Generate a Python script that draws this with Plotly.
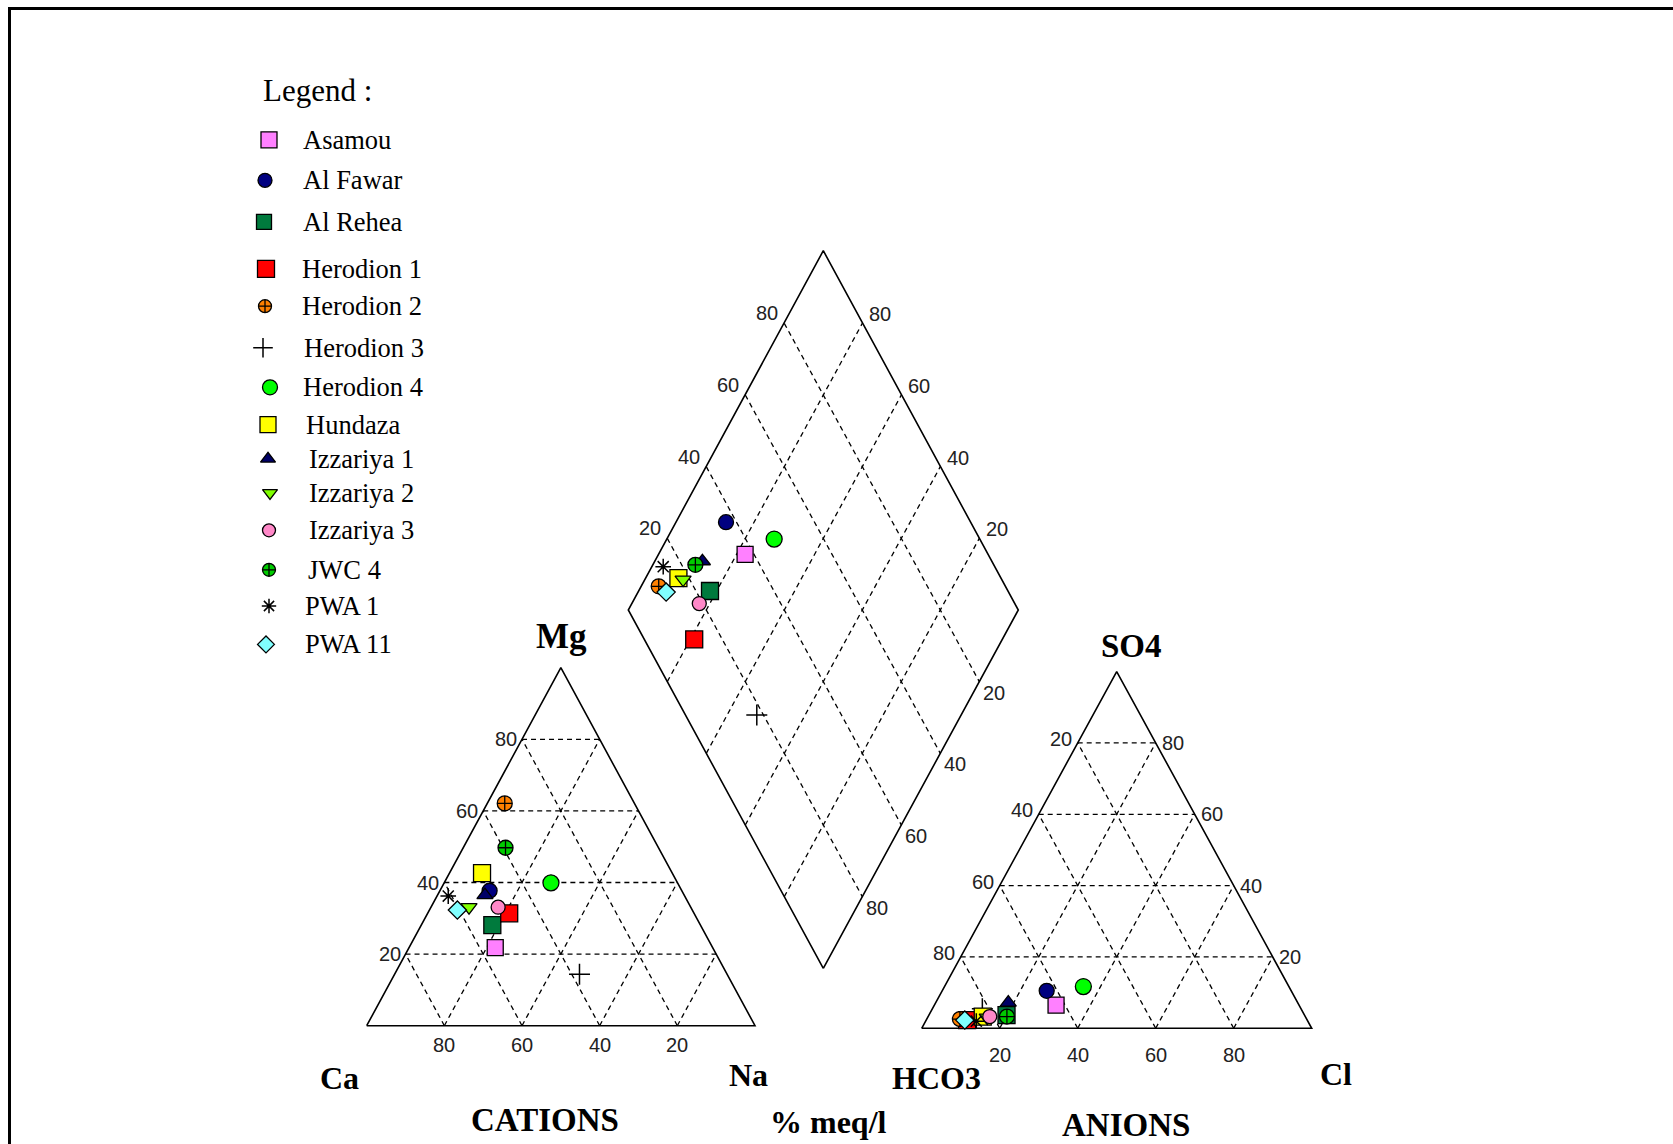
import plotly.graph_objects as go

# ---------------- data (% meq/l) ----------------
samples = ["Asamou", "Al Fawar", "Al Rehea", "Herodion 1", "Herodion 2", "Herodion 3",
           "Herodion 4", "Hundaza", "Izzariya 1", "Izzariya 2", "Izzariya 3", "JWC 4",
           "PWA 1", "PWA 11"]
ca = [56.0, 49.5, 53.6, 47.6, 33.4, 38.0, 32.6, 49.0, 51.3, 57.1, 49.6, 39.4, 60.9, 60.5]
mg = [21.8, 37.7, 28.1, 31.4, 62.1, 14.4, 39.9, 42.6, 36.5, 33.1, 33.1, 49.7, 36.2, 32.3]
na_k = [22.2, 12.8, 18.3, 21.0, 4.5, 47.6, 27.5, 8.4, 12.2, 9.8, 17.3, 10.9, 2.9, 7.2]
hco3 = [62.3, 62.7, 76.4, 87.2, 88.9, 81.7, 52.7, 82.7, 74.2, 81.7, 80.9, 76.5, 85.0, 87.8]
so4 = [6.5, 10.5, 3.7, 2.3, 2.6, 5.5, 11.7, 3.3, 7.2, 3.0, 3.3, 3.3, 2.0, 2.3]
cl = [31.2, 26.8, 19.9, 10.5, 8.5, 12.8, 35.6, 14.0, 18.6, 15.3, 15.8, 20.2, 13.0, 9.9]

grid_levels = [20, 40, 60, 80]
tick_text = ["20", "40", "60", "80"]

# ---------------- styles ----------------
symbols = ["square", "circle", "square", "square", "circle-cross", "cross-thin", "circle",
           "square", "triangle-up", "triangle-down", "circle", "circle-cross",
           "asterisk-open", "diamond"]
colors = ["#FF80FF", "#000080", "#007A3D", "#FF0000", "#FF8000", "#000000", "#00FF00",
          "#FFFF00", "#000066", "#80FF00", "#FF88C8", "#00CC00", "#000000", "#80FFFF"]
sizes = [16, 15, 17, 17, 15, 15, 16, 17, 14, 14, 14, 15, 13, 14]
leg_sizes = [16, 14, 15, 17, 13, 14, 15, 16, 13, 13, 13, 13, 12, 13]

W, H = 1673, 1144
# geometry (pixel space)
CAT_X0, CAT_Y0, CAT_W, CAT_H = 366.7, 1025.7, 388.3, 358.0
AN_X0, AN_Y0, AN_W, AN_H = 921.7, 1028.3, 390.0, 356.7
DB = (823.3, 968.3)
DL = (628.3, 610.0)
DR = (1018.3, 610.0)
DT = (823.3, 250.7)


def cat_xy(m, n):
    return CAT_X0 + (n + m / 2) / 100 * CAT_W, CAT_Y0 - m / 100 * CAT_H


def an_xy(s, c):
    return AN_X0 + (c + s / 2) / 100 * AN_W, AN_Y0 - s / 100 * AN_H


def dia_xy(n, sc):
    a = 1 - n / 100
    b = sc / 100
    return (DB[0] + a * (DL[0] - DB[0]) + b * (DR[0] - DB[0]),
            DB[1] + a * (DL[1] - DB[1]) + b * (DR[1] - DB[1]))


fig = go.Figure()
DASH = "5px,4px"


def seg(p, q, dash=None, width=1.3):
    fig.add_trace(go.Scatter(x=[p[0], q[0]], y=[p[1], q[1]], mode="lines",
                             line=dict(color="black", width=width, dash=dash),
                             hoverinfo="skip", showlegend=False))


# ---- grids ----
for k in grid_levels:
    # cation
    seg(cat_xy(k, 0), cat_xy(k, 100 - k), DASH)
    seg(cat_xy(0, k), cat_xy(100 - k, k), DASH)
    seg(cat_xy(0, 100 - k), cat_xy(100 - k, 0), DASH)
    # anion
    seg(an_xy(k, 0), an_xy(k, 100 - k), DASH)
    seg(an_xy(0, k), an_xy(100 - k, k), DASH)
    seg(an_xy(0, 100 - k), an_xy(100 - k, 0), DASH)
    # diamond
    seg(dia_xy(k, 0), dia_xy(k, 100), DASH)
    seg(dia_xy(0, k), dia_xy(100, k), DASH)

# ---- outlines ----
tri_c = [cat_xy(0, 0), cat_xy(0, 100), cat_xy(100, 0), cat_xy(0, 0)]
tri_a = [an_xy(0, 0), an_xy(0, 100), an_xy(100, 0), an_xy(0, 0)]
dia = [DB, DL, DT, DR, DB]
for poly in (tri_c, tri_a, dia):
    fig.add_trace(go.Scatter(x=[p[0] for p in poly], y=[p[1] for p in poly], mode="lines",
                             line=dict(color="black", width=1.6), hoverinfo="skip",
                             showlegend=False))

# ---- samples ----
for i, name in enumerate(samples):
    p1 = cat_xy(mg[i], na_k[i])
    p2 = an_xy(so4[i], cl[i])
    p3 = dia_xy(na_k[i], 100 - hco3[i])
    thin = symbols[i] in ("cross-thin", "asterisk-open")
    fig.add_trace(go.Scatter(
        x=[p1[0], p2[0], p3[0]], y=[p1[1], p2[1], p3[1]], mode="markers", name=name,
        marker=dict(symbol=symbols[i], color=colors[i], size=sizes[i],
                    line=dict(color="black", width=1.5 if thin else 1.3)),
        showlegend=False))

# ---- manual legend ----
leg_y = [139.8, 180.3, 221.9, 268.9, 306.2, 347.8, 387.3, 424.6, 458.8, 492.9, 530.3,
         569.8, 606.0, 644.4]
leg_mx = [269, 265, 264, 266, 265, 263, 270, 268, 268, 270, 269, 269, 269, 266]
leg_tx = [301, 301, 301, 300, 300, 302, 301, 304, 307, 307, 307, 306, 303, 303]
for i, name in enumerate(samples):
    thin = symbols[i] in ("cross-thin", "asterisk-open")
    fig.add_trace(go.Scatter(
        x=[leg_mx[i]], y=[leg_y[i]], mode="markers",
        marker=dict(symbol=symbols[i], color=colors[i], size=leg_sizes[i],
                    line=dict(color="black", width=1.5 if thin else 1.3)),
        hoverinfo="skip", showlegend=False))

annotations = []
SERIF = "Liberation Serif, Times New Roman, serif"
SANS = "Liberation Sans, Arial, sans-serif"


def txt(x, y, s, size, font=SERIF, bold=False, xa="center", ya="middle", color="black"):
    annotations.append(dict(x=x, y=y, xref="x", yref="y", text=("<b>%s</b>" % s) if bold else s,
                            showarrow=False, xanchor=xa, yanchor=ya,
                            font=dict(family=font, size=size, color=color)))


txt(261, 90, "Legend :", 31, xa="left")
for i, name in enumerate(samples):
    txt(leg_tx[i], leg_y[i], name, 26.5, xa="left")

# ---- tick labels ----
TC = "#222222"
TS = 20
for k, t in zip(grid_levels, tick_text):
    # cation left (Mg)
    x, y = cat_xy(k, 0)
    txt(x - 3, y, t, TS, SANS, xa="right", color=TC)
    # cation bottom (Ca)
    x, y = cat_xy(0, 100 - k)
    txt(x, y + 19, t, TS, SANS, color=TC)
    # anion left (HCO3)
    x, y = an_xy(100 - k, 0)
    txt(x - 4, y - 4, t, TS, SANS, xa="right", color=TC)
    # anion right (SO4)
    x, y = an_xy(k, 100 - k)
    txt(x + 4, y, t, TS, SANS, xa="left", color=TC)
    # anion bottom (Cl)
    x, y = an_xy(0, k)
    txt(x, y + 27, t, TS, SANS, color=TC)
    # diamond upper-left (SO4+Cl)
    x, y = dia_xy(0, k)
    txt(x - 4, y - 10, t, TS, SANS, xa="right", color=TC)
    # diamond upper-right (Ca+Mg)
    x, y = dia_xy(100 - k, 100)
    txt(x + 5, y - 9, t, TS, SANS, xa="left", color=TC)
    # diamond lower-right (HCO3)
    x, y = dia_xy(100, 100 - k)
    txt(x + 2, y + 11, t, TS, SANS, xa="left", color=TC)

# ---- titles ----
txt(561, 636, "Mg", 35, bold=True)
txt(339, 1078, "Ca", 32, bold=True)
txt(748, 1075, "Na", 32, bold=True)
txt(545, 1120, "CATIONS", 33, bold=True)
txt(828, 1122, "% meq/l", 32, bold=True)
txt(936, 1078, "HCO3", 32, bold=True)
txt(1336, 1074, "Cl", 32, bold=True)
txt(1126, 1125, "ANIONS", 33, bold=True)
txt(1131, 646, "SO4", 33, bold=True)

shapes = [dict(type="path", path="M 9.5,1150 L 9.5,8.5 L 1680,8.5", xref="x", yref="y",
               line=dict(color="black", width=3))]

fig.update_layout(
    width=W, height=H, margin=dict(l=0, r=0, t=0, b=0),
    paper_bgcolor="white", plot_bgcolor="white",
    xaxis=dict(range=[0, W], visible=False, fixedrange=True),
    yaxis=dict(range=[H, 0], visible=False, fixedrange=True),
    annotations=annotations, shapes=shapes, showlegend=False,
)

fig.write_html("out.html", config={"displayModeBar": False},
               post_script="document.body.style.margin='0px';")
